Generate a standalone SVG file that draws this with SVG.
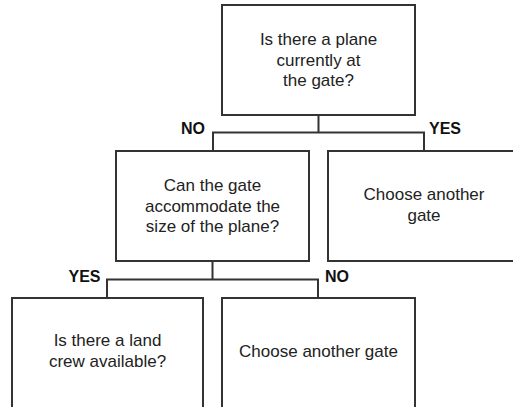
<svg xmlns="http://www.w3.org/2000/svg" width="513" height="407" viewBox="0 0 513 407">
<style>
.box{fill:#fff;stroke:#333;stroke-width:2}
.ln{fill:none;stroke:#333;stroke-width:2}
.t{font-family:"Liberation Sans",Arial,sans-serif;font-size:17px;fill:#222;text-anchor:middle}
.lb{font-family:"Liberation Sans",Arial,sans-serif;font-size:16px;font-weight:bold;fill:#111}
</style>
<rect width="513" height="407" fill="#fff"/>
<g id="connectors">
<path class="ln" d="M318.5 115V132.5M213 151V132.5H424V151"/>
<path class="ln" d="M212.5 261V279.5M107 298V279.5H318V298"/>
</g>
<g id="labels">
<text class="lb" x="181" y="133.5">NO</text>
<text class="lb" x="429" y="133.5">YES</text>
<text class="lb" x="68.5" y="281.5">YES</text>
<text class="lb" x="325" y="281.5">NO</text>
</g>
<g id="n1">
<rect class="box" x="222" y="5" width="193" height="110"/>
<text class="t" x="318.5" y="45">Is there a plane</text>
<text class="t" x="318.5" y="66">currently at</text>
<text class="t" x="318.5" y="86">the gate?</text>
</g>
<g id="n2">
<rect class="box" x="116" y="151" width="193" height="110"/>
<text class="t" x="212.5" y="191">Can the gate</text>
<text class="t" x="212.5" y="211.5">accommodate the</text>
<text class="t" x="212.5" y="232">size of the plane?</text>
</g>
<g id="n3">
<rect class="box" x="328" y="151" width="193" height="110"/>
<text class="t" x="424" y="200">Choose another</text>
<text class="t" x="424" y="221">gate</text>
</g>
<g id="n4">
<rect class="box" x="12" y="298" width="191" height="112"/>
<text class="t" x="107.5" y="346">Is there a land</text>
<text class="t" x="107.5" y="367">crew available?</text>
</g>
<g id="n5">
<rect class="box" x="222" y="298" width="193" height="112"/>
<text class="t" x="318.5" y="357">Choose another gate</text>
</g>
</svg>
